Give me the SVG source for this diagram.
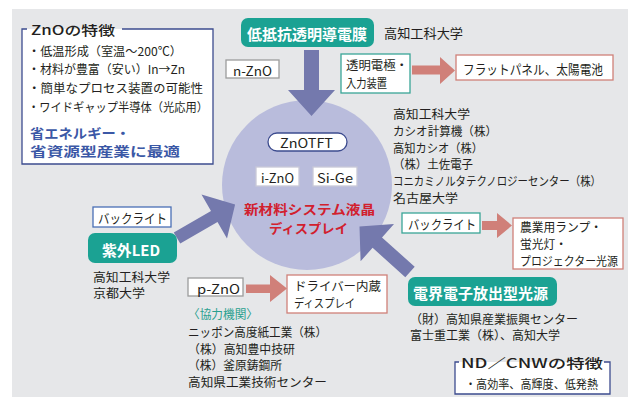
<svg xmlns="http://www.w3.org/2000/svg" width="635" height="397" viewBox="0 0 635 397">
<defs>
<style>
.t{font-family:"Noto Sans CJK JP","Noto Sans",sans-serif;fill:#231f20;dominant-baseline:central;font-size:13px}
.l{font-size:12px}
.w{fill:#ffffff;font-weight:bold;font-size:15px}
.teal{fill:#1ba293}
.bx{fill:#ffffff;stroke-width:1.3}
.gb{stroke:#9c9c9c}
.tb{stroke:#3aa597}
.pb{stroke:#d08079}
.bb{stroke:#4a6fb5}
.nb{stroke:#3d4c8f}
.parrow{fill:#7479ad}
.rarrow{fill:#d08079}
</style>
</defs>
<rect x="0" y="0" width="635" height="397" fill="#ffffff"/>
<rect x="12" y="9" width="616" height="388" fill="#e6e7e9"/>

<g id="center-node">
<circle cx="307" cy="185" r="85" fill="#b9bcdc"/>
<rect x="268" y="133" width="79" height="18" rx="9" class="bx nb"/>
<text class="t" x="280" y="142" font-size="14" textLength="53" lengthAdjust="spacingAndGlyphs">ZnOTFT</text>
<rect x="256" y="167" width="43" height="19" class="bx" stroke="#c8c8d8"/>
<text class="t" x="261" y="177" font-size="14" textLength="33" lengthAdjust="spacingAndGlyphs">i-ZnO</text>
<rect x="313" y="167" width="44" height="19" class="bx" stroke="#c8c8d8"/>
<text class="t" x="317" y="177" font-size="14" textLength="36" lengthAdjust="spacingAndGlyphs">Si-Ge</text>
<text class="t" x="244" y="208" font-size="15" font-weight="bold" style="fill:#d2202e" textLength="131" lengthAdjust="spacingAndGlyphs">新材料システム液晶</text>
<text class="t" x="269" y="227" font-size="15" font-weight="bold" style="fill:#d2202e" textLength="79" lengthAdjust="spacingAndGlyphs">ディスプレイ</text>
</g>

<g id="connectors">
<polygon class="parrow" points="304,50 319,50 319,90 335,90 311.5,116 288,90 304,90"/>
<polygon class="parrow" points="173.75,232.4 211,210.9 201.5,194.4 235.1,204.5 227,238.6 217.5,222.1 180.25,243.6"/>
<polygon class="parrow" points="414.7,266.8 382,237.4 394,224 359.5,226.5 360.6,261.2 372.6,247.8 405.3,277.2"/>
<polygon class="rarrow" points="412,65.5 440,65.5 440,57 455,70.5 440,84 440,74.5 412,74.5"/>
<polygon class="rarrow" points="482,221 497,221 497,213 512,225.5 497,238 497,230 482,230"/>
<polygon class="rarrow" points="246,284.5 270,284.5 270,275 287,288.5 270,302 270,293 246,293"/>
</g>

<g id="zno-features">
<rect x="22" y="29" width="191" height="135" fill="#ffffff"/>
<path d="M27,29 H22 V164 H213 V29 H122" fill="none" stroke="#3d4c8f" stroke-width="1.3"/>
<rect x="27" y="21" width="95" height="8" fill="#e6e7e9"/>
<text class="t" x="31" y="29" font-size="17" font-weight="500" textLength="84" lengthAdjust="spacingAndGlyphs">ZnOの特徴</text>
<text class="t l" x="28" y="50" textLength="154" lengthAdjust="spacingAndGlyphs">・低温形成（室温～200℃）</text>
<text class="t l" x="28" y="68" textLength="157" lengthAdjust="spacingAndGlyphs">・材料が豊富（安い）In→Zn</text>
<text class="t l" x="28" y="87" textLength="175" lengthAdjust="spacingAndGlyphs">・簡単なプロセス装置の可能性</text>
<text class="t l" x="28" y="106" textLength="180" lengthAdjust="spacingAndGlyphs">・ワイドギャップ半導体（光応用）</text>
<text class="t" x="30" y="132" font-size="16" font-weight="bold" style="fill:#3b58a6" textLength="100" lengthAdjust="spacingAndGlyphs">省エネルギー・</text>
<text class="t" x="30" y="150" font-size="16" font-weight="bold" style="fill:#3b58a6" textLength="150" lengthAdjust="spacingAndGlyphs">省資源型産業に最適</text>
</g>

<g id="node-transparent-film">
<rect x="241" y="18" width="133" height="29" rx="7" class="teal"/>
<text class="t w" x="247" y="33" textLength="120" lengthAdjust="spacingAndGlyphs">低抵抗透明導電膜</text>
<text class="t" x="384" y="32" textLength="79" lengthAdjust="spacingAndGlyphs">高知工科大学</text>
</g>

<g id="node-nzno">
<rect x="226" y="60" width="53" height="18" class="bx gb"/>
<text class="t" x="233" y="70" textLength="39" lengthAdjust="spacingAndGlyphs">n-ZnO</text>
</g>

<g id="node-transparent-electrode">
<rect x="341" y="54" width="69" height="39" class="bx tb"/>
<text class="t l" x="346" y="64" textLength="62" lengthAdjust="spacingAndGlyphs">透明電極・</text>
<text class="t l" x="346" y="82" textLength="41" lengthAdjust="spacingAndGlyphs">入力装置</text>
</g>

<g id="node-flatpanel">
<rect x="456" y="55" width="157" height="25" class="bx pb"/>
<text class="t" x="463" y="68" textLength="140" lengthAdjust="spacingAndGlyphs">フラットパネル、太陽電池</text>
</g>

<g id="partners-right">
<text class="t l" x="393" y="113" textLength="77" lengthAdjust="spacingAndGlyphs">高知工科大学</text>
<text class="t l" x="393" y="130" textLength="104" lengthAdjust="spacingAndGlyphs">カシオ計算機（株）</text>
<text class="t l" x="393" y="147" textLength="90" lengthAdjust="spacingAndGlyphs">高知カシオ（株）</text>
<text class="t l" x="393" y="163" textLength="80" lengthAdjust="spacingAndGlyphs">（株）土佐電子</text>
<text class="t l" x="393" y="180" textLength="208" lengthAdjust="spacingAndGlyphs">コニカミノルタテクノロジーセンター（株）</text>
<text class="t l" x="393" y="197" textLength="65" lengthAdjust="spacingAndGlyphs">名古屋大学</text>
</g>

<g id="node-backlight-right">
<rect x="402" y="213" width="78" height="20" class="bx tb"/>
<text class="t" x="408" y="223" textLength="68" lengthAdjust="spacingAndGlyphs">バックライト</text>
</g>

<g id="node-lamps">
<rect x="513" y="218" width="110" height="51" class="bx pb"/>
<text class="t l" x="520" y="226" textLength="82" lengthAdjust="spacingAndGlyphs">農業用ランプ・</text>
<text class="t l" x="520" y="243" textLength="47" lengthAdjust="spacingAndGlyphs">蛍光灯・</text>
<text class="t l" x="520" y="260" textLength="98" lengthAdjust="spacingAndGlyphs">プロジェクター光源</text>
</g>

<g id="node-field-emission">
<rect x="408" y="277" width="149" height="29" rx="7" class="teal"/>
<text class="t w" x="413" y="292" textLength="135" lengthAdjust="spacingAndGlyphs">電界電子放出型光源</text>
<text class="t l" x="410" y="318" textLength="168" lengthAdjust="spacingAndGlyphs">（財）高知県産業振興センター</text>
<text class="t l" x="410" y="334" textLength="150" lengthAdjust="spacingAndGlyphs">富士重工業（株）、高知大学</text>
</g>

<g id="nd-cnw-features">
<rect x="455" y="362" width="155" height="32" fill="#ffffff"/>
<path d="M459,362 H455 V394 H610 V362 H604" fill="none" stroke="#3d4c8f" stroke-width="1.3"/>
<rect x="459" y="353" width="145" height="9" fill="#e6e7e9"/>
<text class="t" x="461" y="362" font-size="17" font-weight="500" textLength="142" lengthAdjust="spacingAndGlyphs">ND／CNWの特徴</text>
<text class="t l" x="465" y="383" textLength="133" lengthAdjust="spacingAndGlyphs">・高効率、高輝度、低発熱</text>
</g>

<g id="node-backlight-left">
<rect x="93" y="207" width="78" height="20" class="bx bb"/>
<text class="t" x="98" y="217" textLength="69" lengthAdjust="spacingAndGlyphs">バックライト</text>
</g>

<g id="node-uv-led">
<rect x="88" y="233" width="89" height="30" rx="7" class="teal"/>
<text class="t w" x="102" y="249" font-size="16" textLength="58" lengthAdjust="spacingAndGlyphs">紫外LED</text>
<text class="t l" x="93" y="276" textLength="77" lengthAdjust="spacingAndGlyphs">高知工科大学</text>
<text class="t l" x="93" y="292" textLength="52" lengthAdjust="spacingAndGlyphs">京都大学</text>
</g>

<g id="node-pzno">
<rect x="188" y="278" width="55" height="18" class="bx gb"/>
<text class="t" x="197" y="288" textLength="43" lengthAdjust="spacingAndGlyphs">p-ZnO</text>
</g>

<g id="node-driver-display">
<rect x="287" y="275" width="100" height="38" class="bx pb"/>
<text class="t l" x="294" y="285" textLength="87" lengthAdjust="spacingAndGlyphs">ドライバー内蔵</text>
<text class="t l" x="294" y="302" textLength="61" lengthAdjust="spacingAndGlyphs">ディスプレイ</text>
</g>

<g id="partners-left">
<text class="t l" x="188" y="313" style="fill:#2aa08f" textLength="70" lengthAdjust="spacingAndGlyphs">〈協力機関〉</text>
<text class="t l" x="188" y="331" textLength="139" lengthAdjust="spacingAndGlyphs">ニッポン高度紙工業（株）</text>
<text class="t l" x="188" y="348" textLength="107" lengthAdjust="spacingAndGlyphs">（株）高知豊中技研</text>
<text class="t l" x="188" y="364" textLength="94" lengthAdjust="spacingAndGlyphs">（株）釜原鋳鋼所</text>
<text class="t l" x="188" y="381" textLength="139" lengthAdjust="spacingAndGlyphs">高知県工業技術センター</text>
</g>
</svg>
